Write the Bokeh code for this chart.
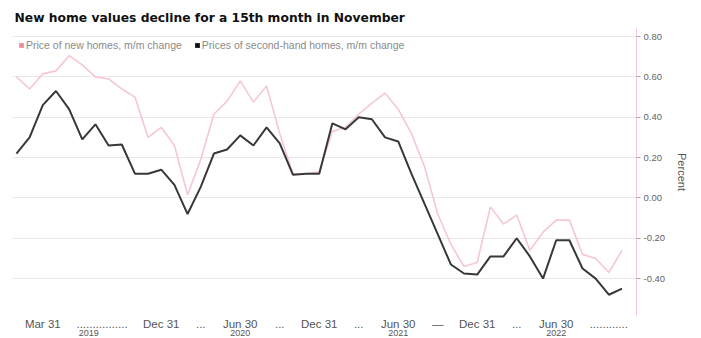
from bokeh.plotting import figure
from bokeh.models import (Range1d, FixedTicker, LinearAxis, Legend, LegendItem,
                          NumeralTickFormatter, ColumnDataSource)
from bokeh.embed import file_html
from bokeh.resources import INLINE

# ---- data (month-on-month change, %), Jan 2019 .. Nov 2022 ----
new_homes = [0.60, 0.54, 0.615, 0.63, 0.705, 0.66, 0.60, 0.59, 0.54, 0.50,
             0.30, 0.35, 0.26, 0.015, 0.19, 0.415, 0.48, 0.58, 0.475, 0.555,
             0.32, 0.12, 0.12, 0.13, 0.33, 0.35, 0.415, 0.47, 0.52, 0.44,
             0.32, 0.155, -0.08, -0.23, -0.34, -0.32, -0.045, -0.13, -0.085, -0.26,
             -0.17, -0.11, -0.11, -0.28, -0.30, -0.37, -0.26]
second_hand = [0.22, 0.30, 0.46, 0.53, 0.44, 0.29, 0.365, 0.26, 0.265, 0.12,
               0.12, 0.14, 0.065, -0.08, 0.055, 0.22, 0.24, 0.31, 0.26, 0.35,
               0.27, 0.115, 0.12, 0.12, 0.37, 0.34, 0.40, 0.39, 0.30, 0.28,
               0.12, -0.03, -0.18, -0.33, -0.375, -0.38, -0.29, -0.29, -0.20, -0.29,
               -0.40, -0.21, -0.21, -0.35, -0.40, -0.48, -0.45]
month_index = list(range(len(new_homes)))  # 0 = Jan 2019

x_tick_pos = [2, 6.5, 11, 14, 17, 20, 23, 26, 29, 32, 35, 38, 41, 45]
x_tick_text = ["Mar 31", "................", "Dec 31", "...", "Jun 30", "...",
               "Dec 31", "...", "Jun 30", "\u2014", "Dec 31", "...", "Jun 30",
               "............"]
year_pos = [5.5, 17, 29, 41]
year_text = ["2019", "2020", "2021", "2022"]
y_ticks = [-0.4, -0.2, 0.0, 0.2, 0.4, 0.6, 0.8]

PINK = "#f5c8d1"
DARK = "#383838"

src = ColumnDataSource(dict(x=month_index, new=new_homes, old=second_hand))

p = figure(width=701, height=338, output_backend="svg", toolbar_location=None,
           x_range=Range1d(-0.3, 47.1), y_range=Range1d(-0.583, 0.84),
           y_axis_location="right", min_border_left=12, min_border_right=65,
           min_border_top=28, min_border_bottom=0)
p.outline_line_color = None
p.background_fill_color = "white"
p.border_fill_color = "white"

p.title.text = "New home values decline for a 15th month in November"
p.title.text_font = "DejaVu Sans"
p.title.text_font_style = "bold"
p.title.text_font_size = "12.3px"
p.title.text_color = "#111111"
p.title.offset = 2
p.title.standoff = 8

# grid
p.xgrid.visible = False
p.ygrid.ticker = FixedTicker(ticks=y_ticks)
p.ygrid.grid_line_color = "#e8e8e8"
p.ygrid.grid_line_width = 1

# lines
r_new = p.line("x", "new", source=src, line_color=PINK, line_width=1.6)
r_old = p.line("x", "old", source=src, line_color=DARK, line_width=2)
# square swatches for the legend (zero-size rects, invisible in the plot)
s_new = p.rect("x", "new", width=0, height=0, source=src,
               fill_color="#f08ca0", line_color=None)
s_old = p.rect("x", "old", width=0, height=0, source=src,
               fill_color="#111111", line_color=None)

legend = Legend(items=[LegendItem(label="Price of new homes, m/m change", renderers=[s_new]),
                       LegendItem(label="Prices of second-hand homes, m/m change", renderers=[s_old])],
                orientation="horizontal", location=(6, 264),
                label_text_font="Liberation Sans", label_text_font_size="10.5px",
                label_text_color="#8a8a8a", glyph_width=6, glyph_height=6,
                label_height=9, label_standoff=2, spacing=12, padding=0,
                margin=0, background_fill_alpha=0, border_line_color=None)
p.add_layout(legend)

# right y axis
ya = p.yaxis[0]
ya.ticker = FixedTicker(ticks=y_ticks)
ya.formatter = NumeralTickFormatter(format="0.00")
ya.axis_line_color = PINK
ya.major_tick_line_color = "#aaaaaa"
ya.major_tick_out = 4
ya.major_tick_in = 0
ya.minor_tick_line_color = None
ya.major_label_standoff = 3
ya.major_label_text_font = "Liberation Sans"
ya.major_label_text_font_size = "9.5px"
ya.major_label_text_color = "#666666"
ya.axis_label = "Percent"
ya.axis_label_text_font = "Liberation Sans"
ya.axis_label_text_font_size = "11px"
ya.axis_label_text_font_style = "normal"
ya.axis_label_text_color = "#555555"
ya.axis_label_standoff = 8

# bottom x axis (dates)
xa = p.xaxis[0]
xa.ticker = FixedTicker(ticks=x_tick_pos)
xa.major_label_overrides = {k: v for k, v in zip(x_tick_pos, x_tick_text)}
xa.axis_line_color = None
xa.major_tick_line_color = None
xa.major_tick_out = 0
xa.major_tick_in = 0
xa.minor_tick_line_color = None
xa.minor_tick_out = 0
xa.major_label_standoff = 2
xa.major_label_text_font = "Liberation Sans"
xa.major_label_text_font_size = "11.5px"
xa.major_label_text_color = "#555555"

# second x axis (years)
year_axis = LinearAxis(ticker=FixedTicker(ticks=year_pos),
                       major_label_overrides={k: v for k, v in zip(year_pos, year_text)},
                       axis_line_color=None, major_tick_line_color=None,
                       major_tick_out=0, major_tick_in=0, minor_tick_out=0,
                       minor_tick_line_color=None, major_label_standoff=-3,
                       major_label_text_font="Liberation Sans",
                       major_label_text_font_size="9px",
                       major_label_text_color="#555555")
p.add_layout(year_axis, "below")

open("out.html", "w").write(file_html(p, INLINE))
